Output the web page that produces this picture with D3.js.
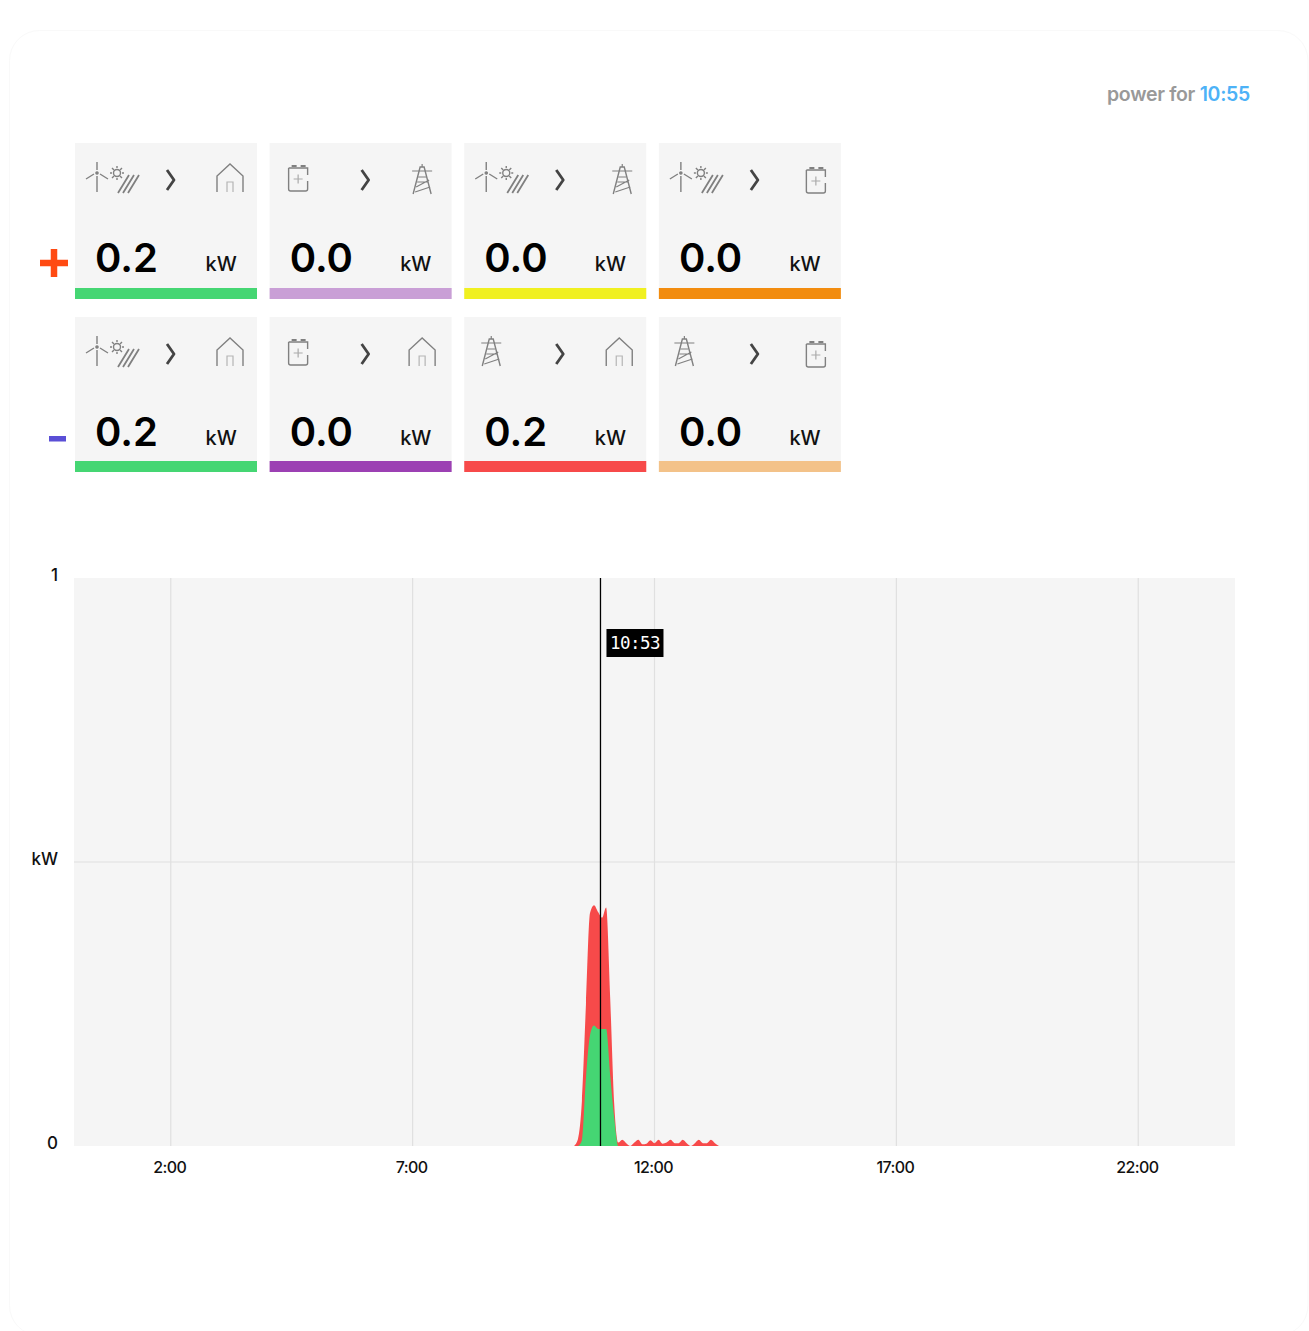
<!DOCTYPE html>
<html>
<head>
<meta charset="utf-8">
<script src="https://cdn.jsdelivr.net/npm/d3@7"></script>
<style>
  html, body { margin: 0; padding: 0; background: #fff; overflow: hidden; }
  svg { display: block; }
  text { font-family: Inter, "Open Sans", sans-serif; }
</style>
</head>
<body>
<div id="chart"></div>
<script>
// Flow cards, top row is "+" and bottom row is "-".
const flowFrom = ["renew", "battery", "renew", "renew", "renew", "battery", "grid", "grid"];
const flowTo = ["home", "grid", "grid", "battery", "home", "home", "home", "battery"];
const flowValues = [0.2, 0.0, 0.0, 0.0, 0.2, 0.0, 0.2, 0.0];
const flowColors = ["#45d673", "#c99fd6", "#f0f020", "#f28c0f", "#45d673", "#9c40b3", "#f74a4a", "#f3c289"];

// Power series, 5 minute samples.
const times = ["10:20", "10:25", "10:30", "10:35", "10:40", "10:45", "10:50", "10:55", "11:00", "11:05", "11:10", "11:15",
  "11:20", "11:25", "11:30", "11:35", "11:40", "11:45", "11:50", "11:55", "12:00", "12:05", "12:10", "12:15", "12:20",
  "12:25", "12:30", "12:35", "12:40", "12:45", "12:50", "12:55", "13:00", "13:05", "13:10", "13:15", "13:20"];
const gridHome = [0, 0.012, 0.08, 0.25, 0.41, 0.424, 0.412, 0.402, 0.42, 0.262, 0.075, 0.006,
  0.011, 0.005, 0, 0.006, 0.011, 0.003, 0.004, 0.01, 0.005, 0.011, 0.004, 0.006, 0.011,
  0.005, 0.005, 0.011, 0.005, 0, 0.005, 0.011, 0.005, 0.005, 0.011, 0.005, 0];
const renewHome = [0, 0, 0.01, 0.12, 0.195, 0.212, 0.206, 0.206, 0.206, 0.125, 0.05, 0,
  0, 0, 0, 0, 0, 0, 0, 0, 0, 0, 0, 0, 0,
  0, 0, 0, 0, 0, 0, 0, 0, 0, 0, 0, 0];

const hourTicks = ["2:00", "7:00", "12:00", "17:00", "22:00"];
const powerTicks = [0, 0.5, 1];
const cursorTime = "10:53";
const shownTime = "10:55";

const width = 1309;
const height = 1331;
const plot = { left: 74, right: 1235, top: 578, bottom: 1146 };

const svg = d3.select("#chart").append("svg")
  .attr("width", width)
  .attr("height", height);

// Faint outline of the panel, it runs off the right and bottom of the page.
svg.append("rect")
  .attr("x", 9.5).attr("y", 30.5)
  .attr("width", 1298.5).attr("height", 1305)
  .attr("rx", 30)
  .attr("fill", "#fff")
  .attr("stroke", "#f9f9f9");

// Title on the top right.
const title = svg.append("text")
  .attr("x", 1250).attr("y", 101)
  .attr("text-anchor", "end")
  .attr("font-size", 19.5)
  .attr("font-weight", 600)
  .attr("letter-spacing", -0.3)
  .attr("fill", "#999");
title.append("tspan").text("power for ");
title.append("tspan").attr("fill", "#4db2f7").text(shownTime);

// Small line icons.
function drawIcon(g, name) {
  g.attr("fill", "none").attr("stroke", "#808080").attr("stroke-width", 1.2);
  if (name === "home") {
    g.append("path").attr("stroke-width", 1.4).attr("d", "M2 29V13L15 1L28 13V29");
    g.append("path").attr("stroke", "#b5b5b5").attr("d", "M12 29V19H18V29");
  } else if (name === "battery") {
    g.append("path").attr("stroke-width", 1.4).attr("d", "M4 7V28Q4 30 6 30H21Q23 30 23 28V20M23 14V7H4");
    g.append("path").attr("stroke-width", 2).attr("d", "M7 5H12M16 5H21");
    g.append("path").attr("stroke", "#aaa").attr("d", "M9 18H18M13.500 13.500V22.500");
  } else if (name === "grid") {
    g.append("path").attr("stroke-width", 1.4).attr("d", "M3 31L10 4H14L21 31");
    g.append("path").attr("d", "M2 8H22M12 1V4M6 24L19 17M5 29L20 24M8 14H16M7 19H18");
  } else {
    // Wind turbine next to a sun and a solar panel.
    g.append("path").attr("stroke-width", 1.4).attr("d", "M11 1V9M11 15V31M8 13L0 18M14 13L22 18");
    g.append("circle").attr("cx", 11).attr("cy", 12).attr("r", 1.2).attr("fill", "#808080");
    g.append("circle").attr("cx", 31).attr("cy", 12).attr("r", 3.5).attr("stroke-width", 1.4);
    g.append("path").attr("stroke-width", 1.4).attr("d", "M31 5V7M31 17V19M24 12H26M36 12H38M26 7L28 9M36 7L34 9M26 17L28 15M36 17L34 15");
    g.append("path").attr("stroke-width", 1.8).attr("d", "M32 32L43 14M37 32L48 14M42 32L53 14");
  }
}

// One card per flow.
const cardX = d3.scaleBand().domain(d3.range(4)).range([75, 853.500]);
const rowY = [143, 317];
const rowHeights = [156, 155];
const cardWidth = 182;
const iconHalf = { home: 15, battery: 13.5, grid: 12 };
const fromCenters = [0, 28.5, 0, 0, 0, 28.5, 27, 25.5];
const toCenters = [155, 152.5, 158, 157, 155, 152.5, 155, 157];

flowValues.forEach(function(value, i) {
  const col = i % 4;
  const row = Math.floor(i / 4);
  const g = svg.append("g").attr("transform", `translate(${cardX(col)}, ${rowY[row]})`);

  g.append("rect")
    .attr("width", cardWidth)
    .attr("height", rowHeights[row])
    .attr("fill", "#f5f5f5");
  g.append("rect")
    .attr("y", rowHeights[row] - 11)
    .attr("width", cardWidth)
    .attr("height", 11)
    .attr("fill", flowColors[i]);

  const fromX = flowFrom[i] === "renew" ? 11 : fromCenters[i] - iconHalf[flowFrom[i]];
  drawIcon(g.append("g").attr("transform", `translate(${fromX}, 18)`), flowFrom[i]);

  g.append("path")
    .attr("d", "M92 27L99 37L92 47")
    .attr("fill", "none")
    .attr("stroke", "#444")
    .attr("stroke-width", 2.8)
    .attr("stroke-linejoin", "round");

  drawIcon(g.append("g").attr("transform", `translate(${toCenters[i] - iconHalf[flowTo[i]]}, 20)`), flowTo[i]);

  g.append("text")
    .attr("x", 20).attr("y", 128.5)
    .attr("font-size", 40)
    .attr("font-weight", 600)
    .attr("fill", "#000")
    .text(value.toFixed(1));
  g.append("text")
    .attr("x", 130.5).attr("y", 127.5)
    .attr("font-size", 20)
    .attr("font-weight", 500)
    .attr("fill", "#111")
    .text("kW");
});

// Plus and minus signs in front of the rows.
svg.append("path").attr("d", "M40 263H68M54 249V277").attr("stroke", "#ff4a12").attr("stroke-width", 6.5).attr("fill", "none");
svg.append("rect").attr("x", 49).attr("y", 436).attr("width", 17).attr("height", 5.500).attr("fill", "#5a4fd6");

// Chart scales, x is minutes of the day.
const toMinutes = t => { const p = t.split(":"); return +p[0] * 60 + +p[1]; };
const xScale = d3.scaleLinear().domain([0, 1440]).range([plot.left, plot.right]);
const yScale = d3.scaleLinear().domain([0, 1]).range([plot.bottom, plot.top]);

svg.append("rect")
  .attr("x", plot.left).attr("y", plot.top)
  .attr("width", plot.right - plot.left).attr("height", plot.bottom - plot.top)
  .attr("fill", "#f5f5f5");

// Bottom axis with its grid lines.
const xAxis = svg.append("g")
  .attr("transform", `translate(0, ${plot.bottom})`)
  .call(d3.axisBottom(xScale)
    .tickValues(hourTicks.map(toMinutes))
    .tickFormat(m => hourTicks[hourTicks.map(toMinutes).indexOf(m)])
    .tickSize(0)
    .tickPadding(16));
xAxis.select(".domain").remove();
xAxis.selectAll("text").attr("font-size", 16).attr("font-weight", 500).attr("letter-spacing", -0.6)
  .attr("fill", "#111").attr("font-family", "Inter").attr("dx", -1.5);

svg.append("g").selectAll("line")
  .data(hourTicks.map(toMinutes))
  .enter().append("line")
  .attr("x1", d => xScale(d)).attr("x2", d => xScale(d))
  .attr("y1", plot.top).attr("y2", plot.bottom)
  .attr("stroke", "#e0e0e0").attr("stroke-width", 1.2);
svg.append("line")
  .attr("x1", plot.left).attr("x2", plot.right)
  .attr("y1", yScale(0.5)).attr("y2", yScale(0.5))
  .attr("stroke", "#e0e0e0").attr("stroke-width", 1.2);

// Left axis, the middle tick carries the unit.
const yAxis = svg.append("g")
  .attr("transform", "translate(58, -3)")
  .call(d3.axisLeft(yScale)
    .tickValues(powerTicks)
    .tickFormat(d => d === 0.5 ? "kW" : d)
    .tickSize(0)
    .tickPadding(0));
yAxis.select(".domain").remove();
yAxis.selectAll("text").attr("font-size", 17).attr("font-weight", 500).attr("fill", "#111").attr("font-family", "Inter");

// The two power areas, grid first and renewables on top.
const area = d3.area()
  .x((d, i) => xScale(toMinutes(times[i])))
  .y0(yScale(0))
  .y1(d => yScale(d))
  .curve(d3.curveMonotoneX);

svg.append("path").datum(gridHome).attr("fill", "#f74a4a").attr("d", area);
svg.append("path").datum(renewHome).attr("fill", "#45d673").attr("d", area);

// Cursor line with the time label.
const cursorX = xScale(toMinutes(cursorTime));
svg.append("line")
  .attr("x1", cursorX).attr("x2", cursorX)
  .attr("y1", plot.top).attr("y2", plot.bottom)
  .attr("stroke", "#000").attr("stroke-width", 1.3);
svg.append("rect")
  .attr("x", cursorX + 6).attr("y", 629)
  .attr("width", 57).attr("height", 28)
  .attr("fill", "#000");
svg.append("text")
  .attr("x", cursorX + 34.500).attr("y", 649)
  .attr("text-anchor", "middle")
  .attr("font-size", 17.500)
  .attr("fill", "#fff")
  .style("font-family", "'DejaVu Sans Mono', monospace")
  .attr("letter-spacing", -0.5)
  .text(cursorTime);
</script>
</body>
</html>
